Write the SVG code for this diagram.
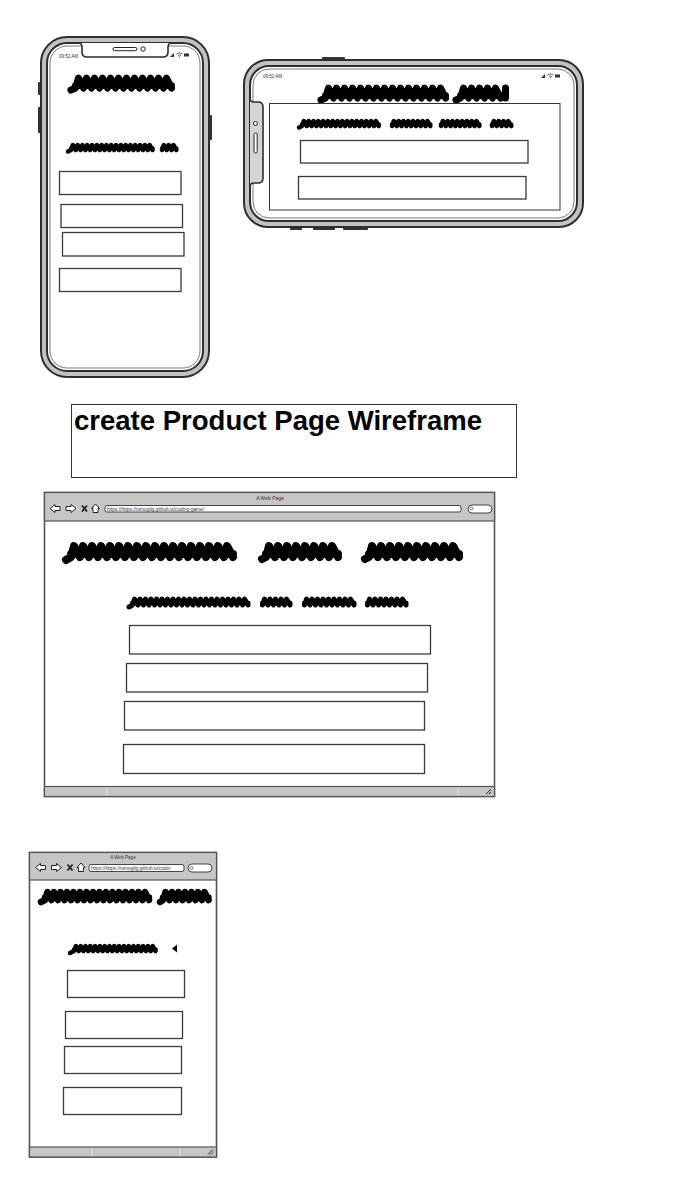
<svg xmlns="http://www.w3.org/2000/svg" xmlns:xlink="http://www.w3.org/1999/xlink" width="696" height="1204" viewBox="0 0 696 1204">
  <style>
    .body { fill: #c2c2c2; stroke: #2e2e2e; stroke-width: 2; }
    .screen { fill: #ffffff; stroke: #2e2e2e; stroke-width: 2; }
    .hair { fill: none; stroke: #555; stroke-width: 0.8; }
    .btn { fill: #333; }
    .box { fill: #ffffff; stroke: #3a3a3a; stroke-width: 1.3; }
    .frame { fill: #ffffff; stroke: #555; stroke-width: 1.6; }
    .bar { fill: #c6c6c6; stroke: #555; stroke-width: 1.2; }
    .field { fill: #ffffff; stroke: #333; stroke-width: 0.9; }
    .div { stroke: #e2e2e2; stroke-width: 1; }
    .scrib { fill: none; stroke: #000; stroke-linecap: round; stroke-linejoin: round; }
    .tiny { font-family: "Liberation Sans", Arial, sans-serif; fill: #333; }
    .title { font-family: "Liberation Sans", Arial, sans-serif; font-weight: 700; font-size: 28px; fill: #000; }
  </style>
  <defs>
    <!-- browser navigation icons: back, forward, stop, home -->
    <g id="nav">
      <polygon points="0,0 5,-4 5,-2 10,-2 10,2 5,2 5,4" fill="#fff" stroke="#222" stroke-width="1"/>
      <polygon points="26,0 21,-4 21,-2 16,-2 16,2 21,2 21,4" fill="#fff" stroke="#222" stroke-width="1"/>
      <path d="M32,-3 L37,3 M37,-3 L32,3" stroke="#222" stroke-width="1.8" fill="none"/>
      <polygon points="45.5,-4.5 49.5,0 48,0 48,4 43,4 43,0 41.5,0" fill="#fff" stroke="#222" stroke-width="1"/>
    </g>
    <!-- status-bar icons: signal, wifi, battery -->
    <g id="status">
      <path d="M0,2 L4,-2 L4,2 Z" fill="#333"/>
      <path d="M6.5,-1 q3,-2.5 6,0 M8,0.5 q1.5,-1.2 3,0" stroke="#333" stroke-width="0.8" fill="none"/>
      <circle cx="9.5" cy="1.8" r="0.6" fill="#333"/>
      <rect x="14" y="-1.5" width="5" height="3" fill="#333"/>
    </g>
    <!-- resize grip -->
    <g id="grip">
      <path d="M-3,2 L2,-3 M0,2 L2,0" stroke="#333" stroke-width="1" fill="none"/>
      <path d="M-2,3 L3,-2" stroke="#888" stroke-width="0.6" fill="none"/>
    </g>
  </defs>

  <rect width="696" height="1204" fill="#ffffff"/>

  <!-- portrait phone -->
  <g id="phone-portrait">
    <rect class="btn" x="38" y="82" width="3" height="13" rx="1"/>
    <rect class="btn" x="38" y="107" width="3" height="26" rx="1"/>
    <rect class="btn" x="209" y="115" width="3" height="25" rx="1"/>
    <rect class="body" x="41" y="37" width="168" height="340" rx="26"/>
    <rect class="screen" x="47" y="43" width="156" height="328" rx="20"/>
    <rect class="hair" x="50" y="46" width="150" height="322" rx="17"/>
    <path d="M78,43 q4,0 4,4 v5 q0,5 5,5 h76 q5,0 5,-5 v-5 q0,-4 4,-4" fill="#fff" stroke="#2e2e2e" stroke-width="1.6"/>
    <rect x="113" y="47.5" width="24" height="3.2" rx="1.6" fill="#fff" stroke="#222" stroke-width="1"/>
    <circle cx="143" cy="49" r="2.2" fill="#fff" stroke="#222" stroke-width="1"/>
    <text class="tiny" x="59" y="57.5" font-size="4.5">09:52 AM</text>
    <use xlink:href="#status" x="170" y="55"/>
    <path class="scrib" stroke-width="7" d="M71,90 L75.5,88 l3,-10 5,10 3,-10 5,10 3,-10 5,10 3,-10 5,10 3,-10 5,10 3,-10 5,10 3,-10 5,10 3,-10 5,10 3,-10 5,10 3,-10 5,10 3,-10 5,10 3,-10 5,10 M75.5,85.5 H171.5"/>
    <path class="scrib" stroke-width="4.5" d="M68,151.5 L71,150 l1.8,-5 3,5 1.8,-5 3,5 1.8,-5 3,5 1.8,-5 3,5 1.8,-5 3,5 1.8,-5 3,5 1.8,-5 3,5 1.8,-5 3,5 1.8,-5 3,5 1.8,-5 3,5 1.8,-5 3,5 1.8,-5 3,5 1.8,-5 3,5 1.8,-5 3,5 1.8,-5 3,5 1.8,-5 3,5 1.8,-5 3,5 M71,148.5 H152.6"/>
    <path class="scrib" stroke-width="4.5" d="M162,150 l1.8,-5 3,5 1.8,-5 3,5 1.8,-5 3,5 M162,148.5 H176.4"/>
    <rect class="box" x="59.5" y="171.5" width="121.5" height="23"/>
    <rect class="box" x="61" y="204.5" width="121.5" height="23"/>
    <rect class="box" x="62.5" y="232.5" width="121.5" height="23.5"/>
    <rect class="box" x="59.5" y="268.5" width="121.5" height="23"/>
  </g>

  <!-- landscape phone -->
  <g id="phone-landscape">
    <rect class="btn" x="322" y="57" width="23" height="3" rx="1"/>
    <rect class="btn" x="290" y="227" width="12" height="3" rx="1"/>
    <rect class="btn" x="313" y="227" width="22" height="3" rx="1"/>
    <rect class="btn" x="343" y="227" width="25" height="3" rx="1"/>
    <rect class="body" x="244" y="60" width="339" height="167" rx="24"/>
    <rect class="screen" x="250" y="66" width="327" height="155" rx="19"/>
    <rect class="hair" x="253" y="69" width="321" height="149" rx="16"/>
    <path d="M250,98 q0,4 4,4 h4 q5,0 5,5 v71 q0,5 -5,5 h-4 q-4,0 -4,4" fill="#d4d4d4" stroke="#2e2e2e" stroke-width="1.6"/>
    <circle cx="255.5" cy="123.5" r="2" fill="#fff" stroke="#222" stroke-width="1"/>
    <rect x="254" y="133" width="3.2" height="20" rx="1.6" fill="#fff" stroke="#222" stroke-width="1"/>
    <text class="tiny" x="263" y="77.5" font-size="4.5">09:52 AM</text>
    <use xlink:href="#status" x="541" y="76"/>
    <path class="scrib" stroke-width="7" d="M321,100 L325.5,98 l3,-10 5,10 3,-10 5,10 3,-10 5,10 3,-10 5,10 3,-10 5,10 3,-10 5,10 3,-10 5,10 3,-10 5,10 3,-10 5,10 3,-10 5,10 3,-10 5,10 3,-10 5,10 3,-10 5,10 3,-10 5,10 3,-10 5,10 M325.5,95.5 H445.5"/>
    <path class="scrib" stroke-width="7" d="M456,100 L460.5,98 l3,-10 5,10 3,-10 5,10 3,-10 5,10 3,-10 5,10 3,-10 5,10 M505.5,88 v10 M460.5,95.5 H505.5"/>
    <rect x="269.5" y="103.5" width="290.5" height="106.5" fill="none" stroke="#333" stroke-width="1"/>
    <path class="scrib" stroke-width="4.5" d="M299,127.5 L302,126 l1.8,-5 3,5 1.8,-5 3,5 1.8,-5 3,5 1.8,-5 3,5 1.8,-5 3,5 1.8,-5 3,5 1.8,-5 3,5 1.8,-5 3,5 1.8,-5 3,5 1.8,-5 3,5 1.8,-5 3,5 1.8,-5 3,5 1.8,-5 3,5 1.8,-5 3,5 1.8,-5 3,5 1.8,-5 3,5 M302,124.5 H378.8"/>
    <path class="scrib" stroke-width="4.5" d="M392,126 l1.8,-5 3,5 1.8,-5 3,5 1.8,-5 3,5 1.8,-5 3,5 1.8,-5 3,5 1.8,-5 3,5 1.8,-5 3,5 1.8,-5 3,5 M392,124.5 H430.4"/>
    <path class="scrib" stroke-width="4.5" d="M441,126 l1.8,-5 3,5 1.8,-5 3,5 1.8,-5 3,5 1.8,-5 3,5 1.8,-5 3,5 1.8,-5 3,5 1.8,-5 3,5 1.8,-5 3,5 M441,124.5 H479.4"/>
    <path class="scrib" stroke-width="4.5" d="M492,126 l1.8,-5 3,5 1.8,-5 3,5 1.8,-5 3,5 1.8,-5 3,5 M492,124.5 H511.2"/>
    <rect class="box" x="300.5" y="140.5" width="227.5" height="22.5"/>
    <rect class="box" x="298.5" y="176.5" width="227.5" height="22.5"/>
  </g>

  <!-- title label -->
  <g id="title">
    <rect x="71.5" y="404.5" width="445" height="73" fill="#fff" stroke="#333" stroke-width="1"/>
    <text class="title" x="74" y="429.5" textLength="408" lengthAdjust="spacingAndGlyphs">create Product Page Wireframe</text>
  </g>

  <!-- desktop browser -->
  <g id="browser-desktop">
    <rect class="frame" x="44.5" y="492.5" width="450" height="304"/>
    <rect class="bar" x="44.5" y="492.5" width="450" height="28.5"/>
    <text class="tiny" x="270" y="499.5" font-size="5" text-anchor="middle">A Web Page</text>
    <use xlink:href="#nav" x="50" y="508.5"/>
    <rect class="field" x="105" y="505.5" width="356" height="6.5" rx="2"/>
    <text class="tiny" x="107" y="510.6" font-size="4.8" fill="#222">https://https://romogilg.github.io/coding-game/</text>
    <rect class="field" x="468" y="505" width="24" height="8" rx="4"/>
    <circle cx="471.5" cy="508.5" r="1.5" fill="none" stroke="#333" stroke-width="0.6"/>
    <rect class="bar" x="44.5" y="786.5" width="450" height="10"/>
    <line class="div" x1="107" y1="787.5" x2="107" y2="795.5"/>
    <line class="div" x1="458" y1="787.5" x2="458" y2="795.5"/>
    <use xlink:href="#grip" x="489" y="792"/>
    <path class="scrib" stroke-width="8" d="M66,560 L71,557 l3,-11 6,11 3,-11 6,11 3,-11 6,11 3,-11 6,11 3,-11 6,11 3,-11 6,11 3,-11 6,11 3,-11 6,11 3,-11 6,11 3,-11 6,11 3,-11 6,11 3,-11 6,11 3,-11 6,11 3,-11 6,11 3,-11 6,11 3,-11 6,11 3,-11 6,11 3,-11 6,11 M71,554 H233"/>
    <path class="scrib" stroke-width="8" d="M262,559 L266,557 l3,-11 6,11 3,-11 6,11 3,-11 6,11 3,-11 6,11 3,-11 6,11 3,-11 6,11 3,-11 6,11 3,-11 6,11 M266,554 H338"/>
    <path class="scrib" stroke-width="8" d="M365,559 L369,557 l3,-11 6,11 3,-11 6,11 3,-11 6,11 3,-11 6,11 3,-11 6,11 3,-11 6,11 3,-11 6,11 3,-11 6,11 3,-11 6,11 3,-11 6,11 M369,554 H459"/>
    <path class="scrib" stroke-width="5" d="M129,607 L132.5,605 l2,-6 3.5,6 2,-6 3.5,6 2,-6 3.5,6 2,-6 3.5,6 2,-6 3.5,6 2,-6 3.5,6 2,-6 3.5,6 2,-6 3.5,6 2,-6 3.5,6 2,-6 3.5,6 2,-6 3.5,6 2,-6 3.5,6 2,-6 3.5,6 2,-6 3.5,6 2,-6 3.5,6 2,-6 3.5,6 2,-6 3.5,6 2,-6 3.5,6 2,-6 3.5,6 2,-6 3.5,6 2,-6 3.5,6 M132.5,603 H248"/>
    <path class="scrib" stroke-width="5" d="M262.5,605 l2,-6 3.5,6 2,-6 3.5,6 2,-6 3.5,6 2,-6 3.5,6 2,-6 3.5,6 M262.5,603 H290"/>
    <path class="scrib" stroke-width="5" d="M304.5,605 l2,-6 3.5,6 2,-6 3.5,6 2,-6 3.5,6 2,-6 3.5,6 2,-6 3.5,6 2,-6 3.5,6 2,-6 3.5,6 2,-6 3.5,6 2,-6 3.5,6 M304.5,603 H354"/>
    <path class="scrib" stroke-width="5" d="M367.5,605 l2,-6 3.5,6 2,-6 3.5,6 2,-6 3.5,6 2,-6 3.5,6 2,-6 3.5,6 2,-6 3.5,6 2,-6 3.5,6 M367.5,603 H406"/>
    <rect class="box" x="129.5" y="625.5" width="301" height="28.5"/>
    <rect class="box" x="126.5" y="663.5" width="301" height="28.5"/>
    <rect class="box" x="124.5" y="701.5" width="300" height="28.5"/>
    <rect class="box" x="123.5" y="744.5" width="301" height="29"/>
  </g>

  <!-- narrow browser -->
  <g id="browser-narrow">
    <rect class="frame" x="29.5" y="852.5" width="187" height="304.5"/>
    <rect class="bar" x="29.5" y="852.5" width="187" height="27.5"/>
    <text class="tiny" x="123" y="858.5" font-size="4.6" text-anchor="middle">A Web Page</text>
    <use xlink:href="#nav" x="35.5" y="867.5"/>
    <rect class="field" x="89" y="864.5" width="95" height="7" rx="2"/>
    <text class="tiny" x="91" y="870" font-size="4.8" fill="#222">https://https://romogilg.github.io/codin</text>
    <rect class="field" x="188" y="864" width="24" height="8" rx="4"/>
    <circle cx="191.5" cy="868" r="1.5" fill="none" stroke="#333" stroke-width="0.6"/>
    <rect class="bar" x="29.5" y="1147" width="187" height="10"/>
    <line class="div" x1="92" y1="1148" x2="92" y2="1156"/>
    <line class="div" x1="180" y1="1148" x2="180" y2="1156"/>
    <use xlink:href="#grip" x="211" y="1152.5"/>
    <path class="scrib" stroke-width="6.5" d="M41,902 L45,900 l2.5,-8 4,8 2.5,-8 4,8 2.5,-8 4,8 2.5,-8 4,8 2.5,-8 4,8 2.5,-8 4,8 2.5,-8 4,8 2.5,-8 4,8 2.5,-8 4,8 2.5,-8 4,8 2.5,-8 4,8 2.5,-8 4,8 2.5,-8 4,8 2.5,-8 4,8 2.5,-8 4,8 2.5,-8 4,8 M45,897.5 H149"/>
    <path class="scrib" stroke-width="6.5" d="M160,902 L163,900 l2.5,-8 4,8 2.5,-8 4,8 2.5,-8 4,8 2.5,-8 4,8 2.5,-8 4,8 2.5,-8 4,8 2.5,-8 4,8 M163,897.5 H208.5"/>
    <path class="scrib" stroke-width="4.5" d="M70,953 L74,951 l1.8,-5 3,5 1.8,-5 3,5 1.8,-5 3,5 1.8,-5 3,5 1.8,-5 3,5 1.8,-5 3,5 1.8,-5 3,5 1.8,-5 3,5 1.8,-5 3,5 1.8,-5 3,5 1.8,-5 3,5 1.8,-5 3,5 1.8,-5 3,5 1.8,-5 3,5 1.8,-5 3,5 1.8,-5 3,5 1.8,-5 3,5 M74,949.5 H155.6"/>
    <path d="M172,948.5 l5,-4 v8 z" fill="#000"/>
    <rect class="box" x="67.5" y="970.5" width="117" height="27"/>
    <rect class="box" x="65.5" y="1011.5" width="117" height="27"/>
    <rect class="box" x="64.5" y="1046.5" width="117" height="27"/>
    <rect class="box" x="63.5" y="1087.5" width="118" height="27"/>
  </g>

  <!-- no connectors in this sheet -->
  <g id="connectors"/>
</svg>
